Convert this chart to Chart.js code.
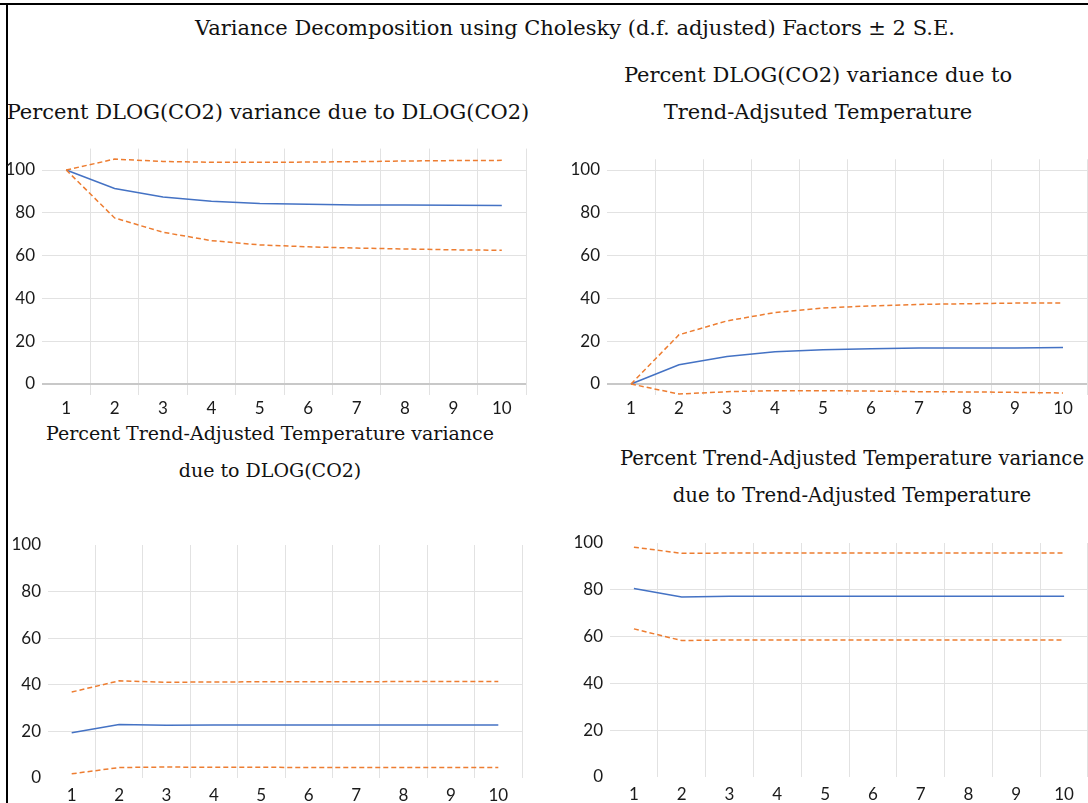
<!DOCTYPE html>
<html>
<head>
<meta charset="utf-8">
<script src="https://cdn.jsdelivr.net/npm/chart.js@4/dist/chart.umd.min.js"></script>
<style>
  body { margin: 0; background: #fff; }
  #page { position: relative; width: 1088px; height: 803px; overflow: hidden; background: #fff; }
  canvas { position: absolute; }
  .ttl { position: absolute; text-align: center; font-family: "DejaVu Serif", serif; font-size: 21px; color: #111; white-space: nowrap; line-height: 37px; }
  .rule { position: absolute; background: #000; }
</style>
</head>
<body>
<div id="page">
  <div class="rule" style="left:0;top:3px;width:1088px;height:2px"></div>
  <div class="rule" style="left:6px;top:3px;width:2px;height:800px"></div>

  <div class="ttl" style="left:0;width:1150px;top:10px">Variance Decomposition using Cholesky (d.f. adjusted) Factors ± 2 S.E.</div>
  <div class="ttl" style="left:0;width:536px;top:94px">Percent DLOG(CO2) variance due to DLOG(CO2)</div>
  <div class="ttl" style="left:548px;width:540px;top:57px">Percent DLOG(CO2) variance due to<br>Trend-Adjsuted Temperature</div>
  <div class="ttl" style="left:0;width:540px;top:415px;font-size:19px">Percent Trend-Adjusted Temperature variance<br>due to DLOG(CO2)</div>
  <div class="ttl" style="left:612px;width:480px;top:440px;font-size:19.7px">Percent Trend-Adjusted Temperature variance<br>due to Trend-Adjusted Temperature</div>

  <canvas id="c1" width="540" height="290" style="left:0;top:140px"></canvas>
  <canvas id="c2" width="548" height="290" style="left:540px;top:140px"></canvas>
  <canvas id="c3" width="540" height="273" style="left:0;top:530px"></canvas>
  <canvas id="c4" width="548" height="273" style="left:540px;top:530px"></canvas>
</div>
<script>
// forecast horizon
const periods = ['1', '2', '3', '4', '5', '6', '7', '8', '9', '10'];
const yTicks = [0, 20, 40, 60, 80, 100];

// DLOG(CO2) due to DLOG(CO2)
const co2Co2 = [100, 91.4, 87.4, 85.4, 84.4, 84.0, 83.7, 83.7, 83.5, 83.4];
const co2Co2Hi = [100, 105.1, 104.0, 103.6, 103.6, 103.7, 103.9, 104.2, 104.4, 104.5];
const co2Co2Lo = [100, 77.6, 70.9, 67.0, 65.0, 64.1, 63.5, 63.1, 62.7, 62.5];

// DLOG(CO2) due to temperature
const co2Temp = [0, 9.0, 12.9, 15.1, 16.0, 16.5, 16.8, 16.8, 16.8, 17.0];
const co2TempHi = [0, 23.0, 29.5, 33.4, 35.5, 36.5, 37.2, 37.5, 37.8, 37.9];
const co2TempLo = [0, -4.7, -3.6, -3.1, -3.1, -3.3, -3.6, -3.7, -3.9, -4.2];

// temperature due to DLOG(CO2)
const tempCo2 = [19.4, 23.0, 22.6, 22.7, 22.7, 22.7, 22.7, 22.7, 22.7, 22.7];
const tempCo2Hi = [36.9, 41.7, 41.1, 41.2, 41.3, 41.3, 41.3, 41.4, 41.4, 41.4];
const tempCo2Lo = [1.8, 4.5, 4.7, 4.6, 4.6, 4.5, 4.5, 4.5, 4.5, 4.5];

// temperature due to temperature
const tempTemp = [80.6, 76.9, 77.2, 77.2, 77.2, 77.2, 77.2, 77.2, 77.2, 77.2];
const tempTempHi = [98.2, 95.6, 95.7, 95.7, 95.7, 95.7, 95.7, 95.7, 95.7, 95.7];
const tempTempLo = [63.3, 58.3, 58.6, 58.6, 58.6, 58.6, 58.6, 58.6, 58.6, 58.6];

const blue = '#4472C4';
const orange = '#ED7D31';
const gridCol = '#e2e2e2';
const tickFont = { family: 'Lato', size: 17 };

function drawPanel(id, mid, hi, lo, o) {
    const line = (data, color, dash) => ({
        data: data,
        borderColor: color,
        borderWidth: 1.5,
        borderDash: dash,
        pointRadius: 0,
        tension: 0,
        fill: false,
        clip: false
    });
    new Chart(document.getElementById(id), {
        type: 'line',
        data: {
            labels: periods,
            datasets: [
                line(hi, orange, [5, 3]),
                line(lo, orange, [5, 3]),
                line(mid, blue, [])
            ]
        },
        options: {
            responsive: false,
            animation: false,
            layout: { padding: { top: o.top, right: o.right, bottom: 0, left: 0 } },
            plugins: { legend: { display: false }, tooltip: { enabled: false } },
            scales: {
                x: {
                    offset: true,
                    border: { display: false },
                    grid: {
                        offset: true,
                        drawTicks: o.ticks,
                        tickLength: 11,
                        color: ctx => (ctx.index === 0 || ctx.index >= 10) ? 'rgba(0,0,0,0)' : gridCol
                    },
                    ticks: { padding: o.ticks ? 3 : 7, color: '#1a1a1a', font: tickFont, maxRotation: 0 },
                    afterFit: s => { s.height = o.xh; s.paddingLeft = 0; s.paddingRight = 0; }
                },
                y: {
                    min: 0,
                    max: o.max,
                    border: { display: false },
                    afterBuildTicks: s => { s.ticks = yTicks.map(v => ({ value: v })); },
                    grid: {
                        drawTicks: false,
                        color: ctx => {
                            const v = ctx.tick ? ctx.tick.value : null;
                            if (v === 0) return o.axis ? '#c8c8c8' : 'rgba(0,0,0,0)';
                            if (v === 100 && !o.axis) return 'rgba(0,0,0,0)';
                            return gridCol;
                        },
                        lineWidth: ctx => (ctx.tick && ctx.tick.value === 0) ? 2 : 1
                    },
                    ticks: { padding: 7, color: '#1a1a1a', font: tickFont },
                    afterFit: s => { s.width = o.yw; s.paddingTop = 0; s.paddingBottom = 0; }
                }
            }
        }
    });
}

drawPanel('c1', co2Co2, co2Co2Hi, co2Co2Lo, { max: 110, top: 8.6, right: 14, xh: 46, yw: 42, ticks: true, axis: true });
drawPanel('c2', co2Temp, co2TempHi, co2TempLo, { max: 105, top: 19.3, right: 1, xh: 46, yw: 67, ticks: true, axis: true });
drawPanel('c3', tempCo2, tempCo2Hi, tempCo2Lo, { max: 100, top: 15, right: 18, xh: 25, yw: 48, ticks: false, axis: false });
drawPanel('c4', tempTemp, tempTempHi, tempTempLo, { max: 100, top: 13, right: 0, xh: 26, yw: 70, ticks: false, axis: false });
</script>
</body>
</html>
